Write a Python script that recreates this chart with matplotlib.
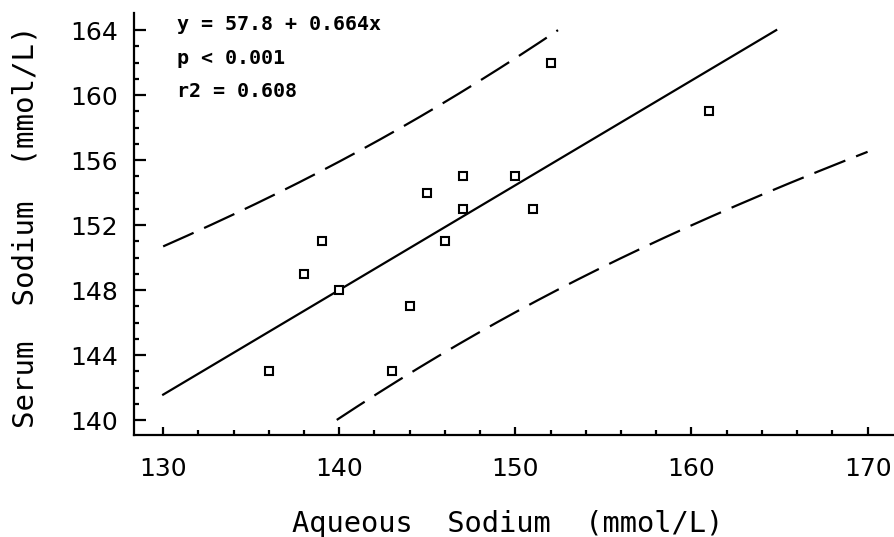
import numpy as np
import matplotlib
matplotlib.use("Agg")
import matplotlib.pyplot as plt
from matplotlib.ticker import FixedLocator

# data
aqueous_na = [136, 138, 139, 140, 143, 144, 145, 146, 147, 147, 150, 151, 152, 161]
serum_na = [143, 149, 151, 148, 143, 147, 154, 151, 155, 153, 155, 153, 162, 159]
x_ticks = [130, 140, 150, 160, 170]
y_ticks = [140, 144, 148, 152, 156, 160, 164]
stats_text = ["y = 57.8 + 0.664x", "p < 0.001", "r2 = 0.608"]

x = np.array(aqueous_na, dtype=float)
y = np.array(serum_na, dtype=float)

# least squares fit + prediction band
slope, icpt = np.polyfit(x, y, 1)
n = len(x)
resid = y - (icpt + slope * x)
s = np.sqrt(np.sum(resid ** 2) / (n - 2))
sxx = np.sum((x - x.mean()) ** 2)
t_crit = 2.1

xs = np.linspace(130, 170, 3000)
fit = icpt + slope * xs
half = t_crit * s * np.sqrt(1 + 1 / n + (xs - x.mean()) ** 2 / sxx)
upper = fit + half
lower = fit - half


def clip(v):
    return np.where((v >= 140) & (v <= 164), v, np.nan)


fig = plt.figure(figsize=(8.94, 5.37), dpi=100)
ax = fig.add_axes([0.150, 0.19, 0.850, 0.7858])

ax.plot(xs, clip(fit), color="black", linewidth=1.6)
ax.plot(xs, clip(upper), color="black", linewidth=1.6, linestyle=(0, (15, 5.2)))
ax.plot(xs, clip(lower), color="black", linewidth=1.6, linestyle=(0, (15, 5.2)))
ax.plot(x, y, linestyle="none", marker="s", markersize=5.5, markerfacecolor="white",
        markeredgecolor="black", markeredgewidth=1.5)

ax.set_xlim(128.35, 171.5)
ax.set_ylim(139.08, 165.05)

ax.spines["top"].set_visible(False)
ax.spines["right"].set_visible(False)
ax.spines["left"].set_linewidth(1.6)
ax.spines["bottom"].set_linewidth(1.6)

ax.set_xticks(x_ticks)
ax.set_yticks(y_ticks)
ax.xaxis.set_minor_locator(FixedLocator(np.arange(130, 171, 2)))
ax.yaxis.set_minor_locator(FixedLocator(np.arange(140, 165, 1)))
ax.tick_params(axis="x", which="major", direction="in", length=6, width=1.6, pad=16, labelsize=18)
ax.tick_params(axis="x", which="minor", direction="in", length=3.5, width=1.6)
ax.tick_params(axis="y", which="major", direction="in", length=8.5, width=1.6, pad=11.5, labelsize=18)
ax.tick_params(axis="y", which="minor", direction="in", length=3.5, width=1.6)

ax.set_xlabel("Aqueous  Sodium  (mmol/L)", fontsize=20.7, family="DejaVu Sans Mono")
ax.set_ylabel("Serum  Sodium  (mmol/L)", fontsize=21, family="DejaVu Sans Mono")
ax.xaxis.set_label_coords(0.492, -0.178)
ax.yaxis.set_label_coords(-0.124, 0.493)

for i, line in enumerate(stats_text):
    ax.text(0.0566, 0.9597 - i * 0.0795, line, transform=ax.transAxes, fontsize=14.4,
            family="DejaVu Sans Mono", fontweight="bold", va="baseline")

plt.savefig("out.png", dpi=100)
